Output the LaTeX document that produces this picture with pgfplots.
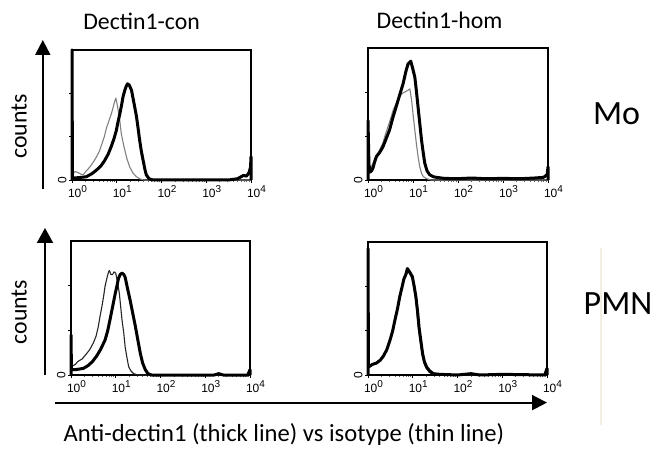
\documentclass[border=0pt]{standalone}
\usepackage{fontspec}
\setmainfont{Carlito}
\newfontfamily\tickfont{Liberation Sans}
\usepackage{pgfplots}
\pgfplotsset{compat=1.18}
\usetikzlibrary{arrows.meta}

\definecolor{isothin}{gray}{0.5}
\definecolor{isodark}{gray}{0.15}
\definecolor{paleline}{RGB}{243,238,226}

% one FACS histogram panel: x in decades of fluorescence, y as fraction of the frame
\pgfplotsset{
  facs/.style={
    anchor=south west,
    scale only axis,
    clip=false,
    xmin=0, xmax=4, ymin=0, ymax=1,
    axis line style={line width=0.7pt},
    xtick={0,1,2,3,4},
    xticklabels={10\textsuperscript{0},10\textsuperscript{1},10\textsuperscript{2},10\textsuperscript{3},10\textsuperscript{4}},
    minor xtick={0.301,0.477,0.602,0.699,0.778,0.845,0.903,0.954,
                 1.301,1.477,1.602,1.699,1.778,1.845,1.903,1.954,
                 2.301,2.477,2.602,2.699,2.778,2.845,2.903,2.954,
                 3.301,3.477,3.602,3.699,3.778,3.845,3.903,3.954},
    ytick={0,0.333,0.667},
    yticklabels={0,,},
    tick align=outside,
    major tick length=1.5pt,
    minor tick length=1.2pt,
    every tick/.style={black, line width=0.4pt},
    every minor tick/.style={black!60, line width=0.3pt},
    xtick pos=bottom, ytick pos=left,
    xticklabel style={font=\tickfont\fontsize{6}{7}\selectfont, inner sep=0pt, anchor=north, xshift=3pt, yshift=-1pt},
    yticklabel style={font=\tickfont\fontsize{6}{7}\selectfont, rotate=90, anchor=south, inner sep=1pt},
  },
  thickline/.style={black, line width=1.5pt, line join=round},
  thinline/.style={line width=0.55pt, line join=round},
}

\begin{document}
\begin{tikzpicture}
\path[use as bounding box] (0pt,0pt) rectangle (328pt,227pt);

% ---------- Mo, Dectin1-con ----------
\begin{axis}[facs, at={(36pt,137pt)}, width=89.5pt, height=65pt]
\addplot[thinline, isothin] coordinates {
 (0,0.04) (0.07,0.065) (0.14,0.056) (0.2,0.045) (0.25,0.04) (0.32,0.07) (0.40,0.10)
 (0.48,0.14) (0.55,0.18) (0.61,0.22) (0.66,0.27) (0.72,0.33) (0.77,0.40) (0.84,0.47)
 (0.88,0.51) (0.92,0.56) (0.95,0.60) (0.98,0.63) (1.01,0.58) (1.03,0.54) (1.07,0.45)
 (1.10,0.36) (1.14,0.29) (1.18,0.23) (1.23,0.16) (1.29,0.10) (1.36,0.055) (1.44,0.025)
 (1.52,0.008) (1.6,0) (4,0)};
\addplot[thickline] coordinates {
 (0,0) (0,1) (0.01,0.015) (0.15,0.018) (0.32,0.025) (0.45,0.05) (0.55,0.077) (0.65,0.11)
 (0.73,0.15) (0.81,0.20) (0.88,0.26) (0.94,0.32) (0.99,0.38) (1.03,0.45) (1.07,0.51)
 (1.11,0.58) (1.14,0.64) (1.18,0.69) (1.21,0.72) (1.24,0.74) (1.28,0.73) (1.33,0.69)
 (1.38,0.60) (1.44,0.49) (1.48,0.39) (1.51,0.31) (1.55,0.22) (1.59,0.15) (1.63,0.08)
 (1.66,0.04) (1.72,0.01) (1.81,0) (3.5,0) (3.7,0.01) (3.83,0.035) (3.9,0.03) (3.96,0.06)
 (3.99,0.10) (4,0.18) (4,0)};
\end{axis}

% ---------- Mo, Dectin1-hom ----------
\begin{axis}[facs, at={(184pt,137pt)}, width=90pt, height=66pt]
\addplot[thinline, isothin] coordinates {
 (0,0.10) (0.04,0.07) (0.1,0.12) (0.15,0.16) (0.2,0.19) (0.26,0.23) (0.33,0.28)
 (0.40,0.36) (0.48,0.44) (0.56,0.53) (0.65,0.60) (0.72,0.64) (0.78,0.66) (0.84,0.67)
 (0.89,0.68) (0.93,0.69) (0.97,0.60) (1.0,0.50) (1.04,0.38) (1.08,0.26) (1.12,0.16)
 (1.15,0.10) (1.19,0.05) (1.23,0.025) (1.3,0.01) (1.4,0) (4,0)};
\addplot[thickline] coordinates {
 (0,0) (0,0.45) (0.02,0.12) (0.05,0.06) (0.08,0.07) (0.11,0.09) (0.15,0.14) (0.19,0.18)
 (0.24,0.20) (0.28,0.22) (0.33,0.25) (0.40,0.31) (0.48,0.38) (0.55,0.47) (0.63,0.56)
 (0.70,0.64) (0.78,0.73) (0.84,0.82) (0.89,0.88) (0.95,0.90) (0.99,0.85) (1.04,0.78)
 (1.08,0.66) (1.11,0.56) (1.15,0.43) (1.19,0.30) (1.23,0.20) (1.26,0.13) (1.31,0.07)
 (1.37,0.04) (1.45,0.025) (1.52,0.02) (1.7,0.012) (2.0,0.01) (2.3,0.015) (2.6,0.01)
 (3.0,0.012) (3.4,0.01) (3.7,0.015) (3.9,0.02) (3.98,0.04) (4,0.10) (4,0)};
\end{axis}

% ---------- PMN, Dectin1-con ----------
\begin{axis}[facs, at={(35.5pt,39.5pt)}, width=89.5pt, height=67pt]
\addplot[thinline, isodark] coordinates {
 (0,0.06) (0.05,0.07) (0.1,0.08) (0.15,0.10) (0.2,0.11) (0.25,0.12) (0.3,0.14)
 (0.35,0.16) (0.42,0.19) (0.50,0.24) (0.56,0.29) (0.61,0.36) (0.65,0.44) (0.69,0.51)
 (0.73,0.59) (0.76,0.66) (0.80,0.72) (0.84,0.77) (0.86,0.78) (0.89,0.75) (0.93,0.75)
 (0.96,0.77) (1.0,0.76) (1.04,0.69) (1.08,0.61) (1.11,0.51) (1.14,0.41) (1.18,0.31)
 (1.21,0.21) (1.25,0.13) (1.29,0.06) (1.34,0.03) (1.40,0.01) (1.5,0) (4,0)};
\addplot[thickline] coordinates {
 (0,0) (0,0.30) (0.01,0.04) (0.1,0.04) (0.2,0.045) (0.28,0.05) (0.38,0.07) (0.48,0.10)
 (0.57,0.14) (0.66,0.19) (0.76,0.26) (0.82,0.33) (0.87,0.41) (0.93,0.51) (0.99,0.61)
 (1.03,0.67) (1.06,0.72) (1.10,0.75) (1.14,0.76) (1.18,0.75) (1.21,0.73) (1.26,0.65)
 (1.32,0.56) (1.38,0.46) (1.44,0.36) (1.50,0.25) (1.55,0.16) (1.60,0.09) (1.66,0.04)
 (1.72,0.01) (1.8,0) (3.2,0) (3.3,0.01) (3.4,0) (3.95,0) (4,0.04) (4,0)};
\end{axis}

% ---------- PMN, Dectin1-hom ----------
\begin{axis}[facs, at={(184pt,39.5pt)}, width=89.5pt, height=66.5pt]
\addplot[thinline, isodark] coordinates {
 (0,0.07) (0.1,0.08) (0.19,0.09) (0.27,0.11) (0.34,0.14) (0.42,0.19) (0.49,0.26)
 (0.55,0.33) (0.60,0.41) (0.66,0.50) (0.71,0.59) (0.76,0.66) (0.80,0.71) (0.85,0.75)
 (0.88,0.78) (0.91,0.77) (0.95,0.75) (0.99,0.72) (1.03,0.64) (1.07,0.55) (1.10,0.44)
 (1.13,0.34) (1.17,0.24) (1.21,0.15) (1.25,0.09) (1.30,0.05) (1.37,0.02) (1.45,0.005)
 (1.6,0) (4,0)};
\addplot[thickline] coordinates {
 (0,0) (0,0.95) (0.01,0.06) (0.1,0.08) (0.19,0.09) (0.27,0.11) (0.34,0.14) (0.42,0.19)
 (0.49,0.26) (0.55,0.33) (0.60,0.41) (0.66,0.50) (0.71,0.59) (0.76,0.66) (0.80,0.72)
 (0.85,0.76) (0.88,0.80) (0.90,0.79) (0.94,0.77) (0.99,0.74) (1.03,0.67) (1.07,0.59)
 (1.11,0.47) (1.14,0.36) (1.18,0.26) (1.22,0.16) (1.26,0.10) (1.31,0.06) (1.38,0.03)
 (1.46,0.01) (1.6,0.005) (2.0,0) (2.3,0.01) (2.5,0) (3.0,0.005) (3.95,0) (4,0.05) (4,0)};
\end{axis}

% column and row captions
\node[anchor=base, font=\fontsize{11.9}{14}\selectfont] at (70.8pt,212pt) {Dectin1-con};
\node[anchor=base, font=\fontsize{11.9}{14}\selectfont] at (219.8pt,212.8pt) {Dectin1-hom};
\node[anchor=base, font=\fontsize{17}{20}\selectfont] at (308.3pt,164.5pt) {Mo};
\node[anchor=base, font=\fontsize{17}{20}\selectfont] at (309pt,69.5pt) {PMN};
\node[anchor=base, rotate=90, font=\fontsize{11.9}{14}\selectfont] at (13.3pt,163.7pt) {counts};
\node[anchor=base, rotate=90, font=\fontsize{11.9}{14}\selectfont] at (13.3pt,71pt) {counts};
\node[anchor=base west, font=\fontsize{12.3}{14}\selectfont] at (28.3pt,6.2pt) {Anti-dectin1 (thick line) vs isotype (thin line)};

% axis arrows
\draw[line width=1pt, -{Triangle[length=7.5pt,width=7.5pt]}] (21.4pt,132.5pt) -- (21.4pt,207pt);
\draw[line width=1pt, -{Triangle[length=7.5pt,width=8pt]}] (22.5pt,39.5pt) -- (22.5pt,113pt);
\draw[line width=1pt, -{Triangle[length=7.5pt,width=7.5pt]}] (27.5pt,25.7pt) -- (273.5pt,25.7pt);

% faint separator
\draw[paleline, line width=1pt] (300.5pt,103pt) -- (300.5pt,14.5pt);
\end{tikzpicture}
\end{document}
